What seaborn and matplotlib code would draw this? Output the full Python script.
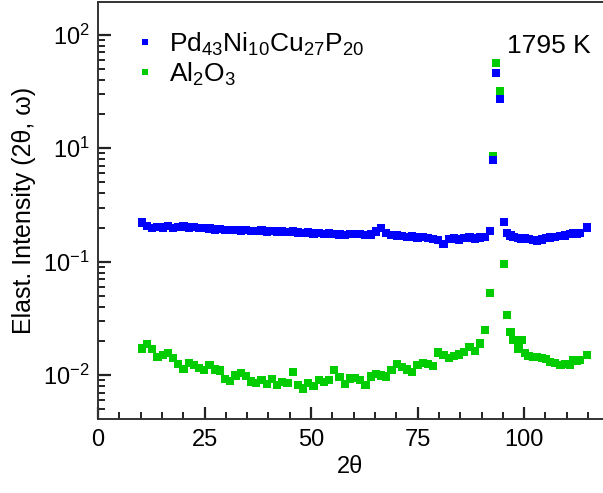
import numpy as np
import pandas as pd
import matplotlib
matplotlib.use("Agg")
import matplotlib.pyplot as plt
import seaborn as sns
from matplotlib.ticker import LogLocator, NullFormatter, FixedLocator, FixedFormatter

# Scattering angle grid (degrees), shared by both samples
two_theta = [
    10.3, 11.5, 12.7, 14.0, 15.2, 16.4, 17.6, 18.8, 20.1, 21.3, 22.5, 23.7, 24.9,
    26.2, 27.4, 28.6, 29.8, 31.0, 32.3, 33.5, 34.7, 35.9, 37.1, 38.4, 39.6, 40.8,
    42.0, 43.2, 44.5, 45.7, 46.9, 48.1, 49.3, 50.6, 51.8, 53.0, 54.2, 55.4, 56.7,
    57.9, 59.1, 60.3, 61.5, 62.8, 64.0, 65.2, 66.4, 67.6, 68.9, 70.1, 71.3, 72.5,
    73.7, 75.0, 76.2, 77.4, 78.6, 79.8, 81.1, 82.3, 83.5, 84.7, 85.9, 87.2, 88.4,
    89.6, 90.8, 92.0, 92.7, 93.4, 94.4, 95.3, 96.0, 96.8, 97.5, 98.7, 99.4, 100.2,
    101.0, 102.0, 103.0, 104.2, 105.2, 106.1, 107.3, 108.5, 109.6, 110.8, 111.6,
    112.4, 113.1, 114.7,
]

# Elastic intensity of the metallic glass melt
intensity_pdnicup = [
    0.221, 0.205, 0.197, 0.203, 0.200, 0.205, 0.199, 0.202, 0.204, 0.200, 0.201, 0.199, 0.198,
    0.196, 0.192, 0.193, 0.190, 0.189, 0.191, 0.188, 0.190, 0.187, 0.186, 0.188, 0.185, 0.186,
    0.184, 0.185, 0.182, 0.184, 0.181, 0.180, 0.181, 0.177, 0.178, 0.175, 0.177, 0.176, 0.174,
    0.173, 0.176, 0.175, 0.176, 0.172, 0.174, 0.185, 0.198, 0.180, 0.172, 0.170, 0.168, 0.164,
    0.167, 0.163, 0.165, 0.161, 0.158, 0.155, 0.143, 0.158, 0.160, 0.157, 0.161, 0.163, 0.160,
    0.163, 0.165, 0.186, 0.79, 4.6, 2.72, 0.224, 0.178, 0.170, 0.165, 0.162, 0.160, 0.161,
    0.158, 0.156, 0.154, 0.157, 0.161, 0.163, 0.165, 0.168, 0.170, 0.176, 0.178,
    0.177, 0.180, 0.200,
]

# Elastic intensity of the empty Al2O3 container
intensity_al2o3 = [
    0.0172, 0.0188, 0.0169, 0.0144, 0.0150, 0.0156, 0.0141, 0.0125, 0.0113, 0.0127, 0.0123, 0.0116, 0.0111,
    0.0123, 0.0112, 0.0110, 0.0092, 0.0089, 0.0099, 0.0104, 0.0098, 0.0088, 0.0085, 0.0091, 0.0083, 0.0092,
    0.0082, 0.0087, 0.0085, 0.0107, 0.0082, 0.0076, 0.0085, 0.0080, 0.0091, 0.0087, 0.0090, 0.0111, 0.0096,
    0.0084, 0.0093, 0.0094, 0.0090, 0.0082, 0.0097, 0.0102, 0.0099, 0.0097, 0.0111, 0.0125, 0.0118, 0.0112,
    0.0107, 0.0123, 0.0128, 0.0126, 0.0120, 0.0158, 0.0150, 0.0141, 0.0147, 0.0152, 0.0160, 0.0176, 0.0164,
    0.0190, 0.0250, 0.0526, 0.85, 5.65, 3.2, 0.095, 0.034, 0.0241, 0.0204, 0.0172, 0.0204, 0.0156,
    0.0147, 0.0145, 0.0145, 0.0141, 0.0138, 0.0131, 0.0127, 0.0123, 0.0125, 0.0123, 0.0136,
    0.0133, 0.0136, 0.0150,
]

series_names = [r"Pd$_{43}$Ni$_{10}$Cu$_{27}$P$_{20}$", r"Al$_2$O$_3$"]
series_colors = ["#0000ff", "#00cc00"]

ytick_values = [0.01, 0.1, 1, 10]
ytick_labels = [r"10$^{-2}$", r"10$^{-1}$", r"10$^{1}$", r"10$^{2}$"]
xtick_values = [0, 25, 50, 75, 100]
temperature_text = "1795 K"

# Container drawn first so the sample points sit on top
df = pd.concat([
    pd.DataFrame({"two_theta": two_theta, "intensity": intensity_al2o3, "sample": series_names[1]}),
    pd.DataFrame({"two_theta": two_theta, "intensity": intensity_pdnicup, "sample": series_names[0]}),
], ignore_index=True)

sns.set_style("ticks", {"xtick.direction": "in", "ytick.direction": "in"})
plt.rcParams["font.family"] = ["Liberation Sans", "DejaVu Sans"]
plt.rcParams["mathtext.fontset"] = "custom"
plt.rcParams["mathtext.rm"] = "Liberation Sans"
plt.rcParams["mathtext.it"] = "Liberation Sans:italic"
plt.rcParams["mathtext.default"] = "regular"
plt.rcParams["text.color"] = "black"
plt.rcParams["axes.labelcolor"] = "black"
plt.rcParams["xtick.labelcolor"] = "black"
plt.rcParams["ytick.labelcolor"] = "black"
for axis_name in ("xtick", "ytick"):
    plt.rcParams[f"{axis_name}.color"] = "#222222"
    plt.rcParams[f"{axis_name}.major.size"] = 9
    plt.rcParams[f"{axis_name}.minor.size"] = 5
    plt.rcParams[f"{axis_name}.major.width"] = 1.6
    plt.rcParams[f"{axis_name}.minor.width"] = 1.4
plt.rcParams["ytick.left"] = True
plt.rcParams["ytick.minor.left"] = True
plt.rcParams["xtick.bottom"] = True
plt.rcParams["xtick.minor.bottom"] = True

fig = plt.figure(figsize=(6.03, 4.93), dpi=100)
ax = fig.add_axes([98 / 603, 1 - 419 / 493, 1 - 98 / 603, (419 - 1.7) / 493])

sns.scatterplot(
    data=df, x="two_theta", y="intensity", hue="sample",
    hue_order=series_names, palette=series_colors,
    marker="s", s=36, linewidth=0, ax=ax, legend=True,
)

ax.set_yscale("log")
ax.set_xlim(0, 118.5)
ax.set_ylim(0.0041, 19.6)

ax.yaxis.set_major_locator(FixedLocator(ytick_values))
ax.yaxis.set_major_formatter(FixedFormatter(ytick_labels))
ax.yaxis.set_minor_locator(LogLocator(base=10, subs=np.arange(2, 10), numticks=20))
ax.yaxis.set_minor_formatter(NullFormatter())
ax.xaxis.set_major_locator(FixedLocator(xtick_values))
ax.xaxis.set_minor_locator(FixedLocator(np.arange(5, 120, 5)))

ax.tick_params(which="major", direction="in", length=9, width=1.6, color="#222222",
               labelsize=17, pad=6)
ax.tick_params(which="minor", direction="in", length=5, width=1.4, color="#222222")
ax.tick_params(axis="y", which="both", left=True, right=False)
ax.tick_params(axis="x", which="both", bottom=True, top=False)
ax.tick_params(axis="x", which="major", pad=7)

for side in ["left", "bottom", "top"]:
    ax.spines[side].set_linewidth(1.4)
    ax.spines[side].set_color("#333333")
ax.spines["right"].set_visible(False)

ax.set_xlabel("2θ", fontsize=17, labelpad=4)
ax.set_ylabel("Elast. Intensity (2θ, ω)", fontsize=18, labelpad=5)

leg = ax.legend(loc="upper left", bbox_to_anchor=(0.03, 0.975), frameon=False,
                fontsize=19, handlelength=1.0, handletextpad=0.4, labelspacing=0.1,
                markerscale=0.75, borderaxespad=0.3)

ax.text(0.975, 0.895, temperature_text, transform=ax.transAxes,
        ha="right", va="center", fontsize=19)

fig.savefig("out.png", dpi=100)
